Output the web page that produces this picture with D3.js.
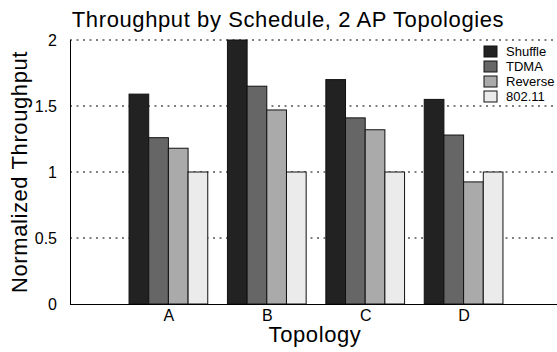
<!DOCTYPE html>
<html>
<head>
<meta charset="utf-8">
<script src="https://cdn.jsdelivr.net/npm/d3@7"></script>
<style>
  body { margin: 0; background: #fff; }
  svg { display: block; font-family: "Liberation Sans", Arial, Helvetica, sans-serif; }
</style>
</head>
<body>
<svg width="557" height="352"></svg>
<script>
const topologies = ["A", "B", "C", "D"];
const series = ["Shuffle", "TDMA", "Reverse", "802.11"];
const shuffle = [1.59, 2.0, 1.70, 1.55];
const tdma = [1.26, 1.65, 1.41, 1.28];
const reverse = [1.18, 1.47, 1.32, 0.925];
const ieee80211 = [1.0, 1.0, 1.0, 1.0];
const yTicks = [0, 0.5, 1, 1.5, 2];

const colors = ["#222222", "#666666", "#aaaaaa", "#ebebeb"];
const values = [shuffle, tdma, reverse, ieee80211];

const svg = d3.select("svg"),
      plotLeft = 70, plotTop = 40, plotBottom = 304;

// groups sit at 1..4 on a 0..5 axis, right end runs off the picture
const x = d3.scaleLinear().domain([0, topologies.length + 1]).range([plotLeft, 562]);
const xSub = d3.scaleBand().domain(series).range([-0.4, 0.4]);
const y = d3.scaleLinear().domain([0, 2]).range([plotBottom, plotTop]);

// dotted grid
svg.append("g")
  .selectAll("line")
  .data(yTicks.filter(d => d > 0))
  .enter()
  .append("line")
  .attr("x1", plotLeft).attr("x2", 557)
  .attr("y1", d => y(d)).attr("y2", d => y(d))
  .attr("stroke", "#000")
  .attr("stroke-width", 1)
  .attr("stroke-dasharray", "2,4.5");

// bars
const groups = svg.append("g")
  .selectAll("g")
  .data(topologies)
  .enter()
  .append("g");

groups.selectAll("rect")
  .data((t, i) => series.map((s, j) => ({ t: i + 1, s: s, v: values[j][i], c: colors[j] })))
  .enter()
  .append("rect")
  .attr("x", d => x(d.t + xSub(d.s)))
  .attr("y", d => y(d.v))
  .attr("width", d => x(xSub.bandwidth()) - x(0))
  .attr("height", d => y(0) - y(d.v))
  .attr("fill", d => d.c)
  .attr("stroke", "#111")
  .attr("stroke-width", 1);

// axes
const yAxis = svg.append("g")
  .attr("transform", `translate(${plotLeft},0)`)
  .call(d3.axisLeft(y).tickValues(yTicks).tickFormat(d3.format("")).tickSize(0).tickPadding(13));
yAxis.select(".domain").attr("stroke", "#000").attr("d", `M0.5,${plotTop}V${plotBottom}`);
yAxis.selectAll("text").attr("font-size", 16).attr("fill", "#000").attr("font-family", null);

const xAxis = svg.append("g")
  .attr("transform", `translate(0,${plotBottom})`)
  .call(d3.axisBottom(x).tickValues(d3.range(1, topologies.length + 1))
    .tickFormat(d => topologies[d - 1]).tickSize(0).tickPadding(6));
xAxis.select(".domain").attr("stroke", "#000").attr("d", `M${plotLeft},0.5H557`);
xAxis.selectAll("text").attr("font-size", 16).attr("fill", "#000").attr("font-family", null);

// titles
svg.append("text")
  .attr("x", 288).attr("y", 27)
  .attr("text-anchor", "middle")
  .attr("font-size", 22)
  .attr("letter-spacing", 0.6)
  .text("Throughput by Schedule, 2 AP Topologies");

svg.append("text")
  .attr("x", 315).attr("y", 342)
  .attr("text-anchor", "middle")
  .attr("font-size", 22)
  .attr("letter-spacing", 0.6)
  .text("Topology");

svg.append("text")
  .attr("transform", `translate(27,${(plotTop + plotBottom) / 2}) rotate(-90)`)
  .attr("text-anchor", "middle")
  .attr("font-size", 22)
  .attr("letter-spacing", 0.6)
  .text("Normalized Throughput");

// legend
const legend = svg.append("g").attr("transform", "translate(484,46)");
legend.selectAll("rect")
  .data(series)
  .enter()
  .append("rect")
  .attr("x", 0)
  .attr("y", (d, i) => i * 15)
  .attr("width", 13)
  .attr("height", 11)
  .attr("fill", (d, i) => colors[i])
  .attr("stroke", "#111");
legend.selectAll("text")
  .data(series)
  .enter()
  .append("text")
  .attr("x", 22)
  .attr("y", (d, i) => i * 15 + 10)
  .attr("font-size", 13)
  .text(d => d);
</script>
</body>
</html>
